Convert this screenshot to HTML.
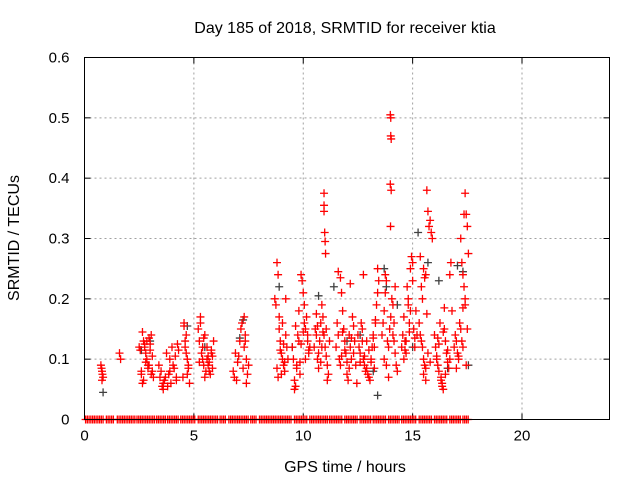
<!DOCTYPE html>
<html><head><meta charset="utf-8">
<style>
html,body{margin:0;padding:0;background:#fff;}
svg{display:block;font-family:"Liberation Sans",sans-serif;}
</style></head>
<body>
<svg id="chart" width="640" height="480">
<text x="345" y="33" text-anchor="middle" font-size="16">Day 185 of 2018, SRMTID for receiver ktia</text>
<text x="345" y="472" text-anchor="middle" font-size="16">GPS time / hours</text>
<text transform="translate(19,238) rotate(-90)" text-anchor="middle" font-size="16">SRMTID / TECUs</text>
<g id="grid"></g>
<g id="ticks"></g>
<g id="pts"></g>
<rect x="84.5" y="57.5" width="525" height="362" fill="none" stroke="#000" stroke-width="1"/>
</svg>
<script>
const xTicks=[0,5,10,15,20];
const yTicks=[0,0.1,0.2,0.3,0.4,0.5,0.6];
const yTickLabels=["0","0.1","0.2","0.3","0.4","0.5","0.6"];
// red series: [hour, value]
const redHours=[0.75,0.78,0.8,0.82,0.85,0.8,1.6,1.65,
2.5,2.55,2.6,2.65,2.7,2.75,2.8,2.85,2.9,2.95,3.0,3.05,3.1,3.15,2.6,2.7,2.8,2.9,3.0,3.1,2.65,2.75,2.85,2.95,3.05,
3.4,3.5,3.6,3.7,3.8,3.9,4.0,4.1,4.2,4.3,3.45,3.55,3.65,3.75,3.85,3.95,4.05,4.15,4.25,3.6,3.9,4.2,
4.5,4.55,4.6,4.65,4.7,4.75,4.8,4.55,4.65,4.75,4.6,4.7,
5.2,5.25,5.3,5.35,5.4,5.45,5.5,5.55,5.6,5.65,5.7,5.75,5.8,5.85,5.9,5.3,5.4,5.5,5.6,5.7,5.8,5.25,5.45,5.65,5.85,
6.8,6.9,7.0,7.1,7.2,7.3,7.4,7.5,6.85,6.95,7.05,7.15,7.25,7.35,7.45,7.3,7.4,7.35,
8.7,8.75,8.8,8.85,8.9,8.95,9.0,9.05,9.1,9.15,9.2,9.25,9.3,8.8,8.9,9.0,9.1,9.2,8.85,8.95,9.05,9.15,
9.5,9.55,9.6,9.65,9.7,9.75,9.8,9.85,9.9,9.95,10.0,10.05,10.1,10.15,10.2,10.25,10.3,9.6,9.7,9.8,9.9,10.0,10.1,10.2,9.65,9.85,10.05,10.25,
10.5,10.55,10.6,10.65,10.7,10.75,10.8,10.85,10.9,10.95,11.0,11.05,11.1,11.15,11.2,10.95,10.95,10.95,10.98,11.0,11.02,10.6,10.7,10.8,10.9,11.1,10.65,10.85,11.05,
11.5,11.55,11.6,11.65,11.7,11.75,11.8,11.85,11.9,11.95,12.0,12.05,12.1,12.15,12.2,12.25,12.3,12.35,12.4,12.45,11.6,11.7,11.8,11.9,12.0,12.1,12.2,12.3,11.75,12.15,
12.5,12.55,12.6,12.65,12.7,12.75,12.8,12.85,12.9,12.95,13.0,13.05,13.1,13.15,13.2,13.25,13.3,13.35,13.4,13.45,12.6,12.7,12.8,12.9,13.0,13.1,13.2,13.3,13.4,12.75,13.25,
13.6,13.65,13.7,13.75,13.8,13.85,13.9,13.95,14.0,14.05,14.1,14.15,14.2,14.25,14.3,13.98,14.0,14.0,14.02,13.98,14.02,13.99,13.7,13.8,13.9,14.1,14.2,13.75,14.15,
14.5,14.55,14.6,14.65,14.7,14.75,14.8,14.85,14.9,14.95,15.0,15.05,15.1,15.15,15.2,14.6,14.7,14.8,14.9,15.0,15.1,14.65,14.85,
15.3,15.35,15.4,15.45,15.5,15.55,15.6,15.65,15.7,15.75,15.8,15.85,15.9,15.45,15.5,15.55,15.6,15.4,15.5,15.6,15.7,15.8,15.35,15.65,
16.0,16.05,16.1,16.15,16.2,16.25,16.3,16.35,16.4,16.45,16.5,16.55,16.6,16.65,16.7,16.75,16.8,16.1,16.2,16.3,16.4,16.5,16.6,16.7,16.15,16.45,16.35,
16.9,16.95,17.0,17.05,17.1,17.15,17.2,17.25,17.3,17.35,17.4,17.45,17.5,17.55,17.2,17.25,17.3,17.35,17.4,17.3,17.4,17.45,17.5,17.0,17.1];
const redValues=[0.09,0.085,0.08,0.075,0.07,0.065,0.11,0.10,
0.12,0.115,0.08,0.145,0.13,0.12,0.11,0.10,0.09,0.135,0.125,0.14,0.08,0.07,0.075,0.065,0.095,0.085,0.115,0.105,0.06,0.125,0.13,0.09,0.075,
0.09,0.08,0.06,0.07,0.055,0.10,0.12,0.085,0.065,0.115,0.07,0.055,0.065,0.11,0.075,0.06,0.09,0.105,0.125,0.05,0.08,0.07,
0.07,0.16,0.12,0.14,0.10,0.085,0.06,0.155,0.11,0.09,0.13,0.075,
0.15,0.13,0.17,0.11,0.10,0.09,0.14,0.08,0.12,0.105,0.095,0.075,0.11,0.085,0.13,0.16,0.12,0.07,0.10,0.08,0.115,0.095,0.135,0.09,0.105,
0.08,0.11,0.095,0.13,0.16,0.12,0.10,0.09,0.07,0.065,0.105,0.15,0.085,0.13,0.075,0.17,0.06,0.14,
0.20,0.19,0.26,0.24,0.15,0.13,0.11,0.10,0.09,0.08,0.14,0.12,0.10,0.085,0.17,0.075,0.125,0.20,0.07,0.115,0.16,0.095,
0.12,0.10,0.05,0.055,0.09,0.14,0.13,0.075,0.24,0.23,0.21,0.16,0.15,0.17,0.13,0.11,0.12,0.065,0.085,0.18,0.125,0.145,0.10,0.14,0.155,0.095,0.19,0.115,
0.12,0.15,0.14,0.10,0.085,0.13,0.16,0.19,0.17,0.14,0.12,0.15,0.09,0.075,0.13,0.375,0.355,0.345,0.31,0.295,0.275,0.175,0.11,0.095,0.145,0.065,0.155,0.12,0.105,
0.12,0.16,0.14,0.10,0.09,0.21,0.18,0.15,0.13,0.11,0.075,0.065,0.14,0.12,0.10,0.17,0.155,0.13,0.09,0.06,0.245,0.235,0.145,0.115,0.095,0.085,0.135,0.11,0.105,0.225,
0.14,0.12,0.11,0.16,0.15,0.10,0.09,0.08,0.13,0.075,0.07,0.065,0.10,0.12,0.14,0.085,0.16,0.19,0.21,0.23,0.095,0.13,0.105,0.085,0.115,0.095,0.135,0.165,0.25,0.24,0.12,
0.14,0.16,0.18,0.21,0.23,0.13,0.12,0.15,0.17,0.20,0.19,0.13,0.11,0.09,0.08,0.505,0.50,0.47,0.465,0.39,0.38,0.32,0.10,0.09,0.07,0.14,0.22,0.24,0.16,
0.12,0.14,0.17,0.13,0.11,0.22,0.19,0.16,0.25,0.27,0.26,0.15,0.12,0.18,0.14,0.10,0.13,0.2,0.18,0.23,0.135,0.115,0.145,
0.16,0.14,0.22,0.20,0.25,0.235,0.24,0.38,0.345,0.32,0.33,0.31,0.30,0.12,0.10,0.09,0.085,0.13,0.075,0.065,0.11,0.095,0.27,0.175,
0.14,0.12,0.10,0.09,0.08,0.16,0.07,0.06,0.05,0.15,0.13,0.11,0.095,0.085,0.24,0.26,0.18,0.105,0.125,0.065,0.145,0.075,0.115,0.1,0.135,0.185,0.055,
0.12,0.14,0.13,0.11,0.10,0.16,0.15,0.13,0.12,0.34,0.375,0.34,0.32,0.275,0.30,0.26,0.24,0.22,0.20,0.185,0.19,0.09,0.15,0.085,0.105];
// gray series
const grayHours=[0.85,2.6,3.0,4.7,5.5,7.25,7.1,8.9,9.5,10.7,11.4,12.0,12.6,13.2,13.4,13.7,13.8,14.3,15.0,15.25,15.7,16.2,16.6,17.05,17.3,17.55];
const grayValues=[0.045,0.115,0.13,0.155,0.12,0.165,0.135,0.22,0.12,0.205,0.22,0.13,0.14,0.08,0.04,0.25,0.22,0.19,0.12,0.31,0.26,0.23,0.085,0.255,0.245,0.09];
// zero-valued samples along baseline
const zeroStart=[0.05,1.0,1.5,2.4,3.3,3.8,4.4,5.2,6.2,6.6,7.6,8.0,9.6,10.3,11.2,11.9,12.6,13.2,13.9,14.5,15.3,16.0,16.7,17.3];
const zeroEnd=[0.85,1.35,2.3,3.2,3.7,4.3,5.1,6.1,6.5,7.5,7.9,9.5,10.2,11.1,11.8,12.5,13.1,13.8,14.4,15.2,15.9,16.6,17.2,17.6];

const NS="http://www.w3.org/2000/svg";
const X0=84.5,X1=609.5,Y0=419.5,Y1=57.5;
const xs=h=>X0+(h/24)*(X1-X0);
const ys=v=>Y0-(v/0.6)*(Y0-Y1);
const grid=document.getElementById('grid'),ticks=document.getElementById('ticks'),pts=document.getElementById('pts');
function mk(t,a){const e=document.createElementNS(NS,t);for(const k in a)e.setAttribute(k,a[k]);return e;}
xTicks.forEach(t=>{
  const x=xs(t);
  if(t>0){const g=mk('line',{x1:x,x2:x,y1:Y0,y2:Y1,stroke:'#a0a0a0','stroke-dasharray':'2,3'});
  
  grid.appendChild(g);}
  const l=mk('text',{x:x,y:Y0+21,'text-anchor':'middle','font-size':'15'});l.textContent=t;
  
  ticks.appendChild(l);
  ticks.appendChild(mk('line',{x1:x,x2:x,y1:Y0,y2:Y0-6,stroke:'#000'}));
  ticks.appendChild(mk('line',{x1:x,x2:x,y1:Y1,y2:Y1+6,stroke:'#000'}));
});
yTicks.forEach((t,i)=>{
  const y=ys(t);
  if(t>0&&t<0.6){const g=mk('line',{x1:X0,x2:X1,y1:y,y2:y,stroke:'#a0a0a0','stroke-dasharray':'2,3'});
  
  grid.appendChild(g);}
  const l=mk('text',{x:X0-15,y:y+5,'text-anchor':'end','font-size':'15'});l.textContent=yTickLabels[i];
  
  ticks.appendChild(l);
  ticks.appendChild(mk('line',{x1:X0,x2:X0+6,y1:y,y2:y,stroke:'#000'}));
  ticks.appendChild(mk('line',{x1:X1,x2:X1-6,y1:y,y2:y,stroke:'#000'}));
});
function plus(h,v,c,name){
  const x=xs(h),y=ys(v);
  const p=mk('path',{d:`M${x-4},${y}h8M${x},${y-4}v8`,stroke:c,'stroke-width':'1.3',fill:'none'});
  
  
  pts.appendChild(p);
}
grayHours.forEach((h,i)=>plus(h,grayValues[i],'#404040','gray-point'));
redHours.forEach((h,i)=>plus(h,redValues[i],'#ff0000','red-point'));
zeroStart.forEach((s,i)=>{
  for(let h=s;h<=zeroEnd[i]+1e-6;h+=0.08) plus(h,0,'#ff0000','zero-point');
});
</script>
</body></html>
